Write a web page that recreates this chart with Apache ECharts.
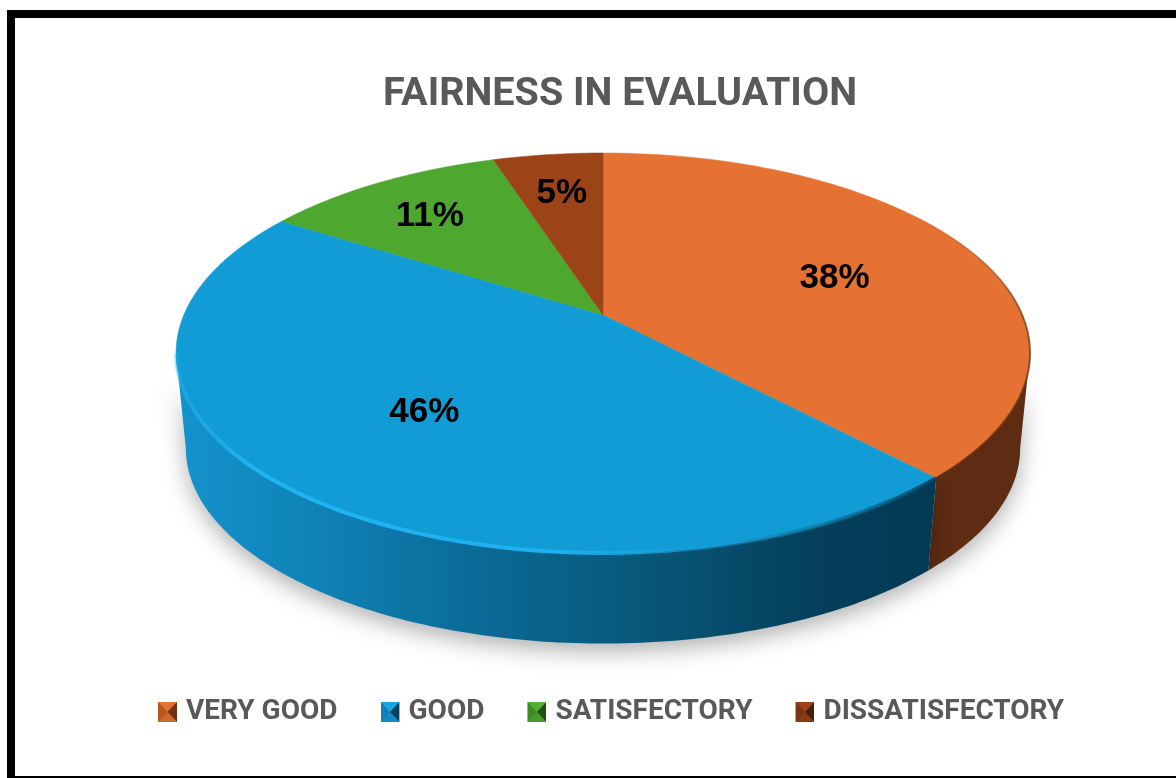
<!DOCTYPE html>
<html>
<head>
<meta charset="utf-8">
<style>html,body{margin:0;padding:0;background:#fff}#c{width:1176px;height:778px}</style>
<script src="https://cdn.jsdelivr.net/npm/echarts@6/dist/echarts.min.js"></script>
</head>
<body>
<div id="c"></div>
<script>
const categories = ['VERY GOOD', 'GOOD', 'SATISFECTORY', 'DISSATISFECTORY'];
const values = [38, 46, 11, 5];
const labelRadius = [0.62, 0.6, 0.75, 0.75];
const labelShift = [[0, 6], [-3, 0], [0, 4], [2, 4]];
const topColors = ['#e57232', '#119cd6', '#4ea72e', '#9c4318'];
const icons = [
  ['#e57232', '#b8561f', '#6e3314', '#d0672b'],
  ['#1aa5e0', '#0e7fb0', '#063f5c', '#128cc2'],
  ['#55b032', '#3d8a26', '#1f4f13', '#469c2b'],
  ['#9c4318', '#7c3412', '#45200c', '#8a3a14']
];

// perspective projection of the unit disc
const P = { cx: 603, cy: 315, A: 419.2, B: 192.8, k: -0.19, sb: 0.977, yb: 411 };
function proj(theta, r, bottom) {
  const u = r * Math.sin(theta), v = -r * Math.cos(theta), w = 1 + P.k * v;
  const s = bottom ? P.sb : 1;
  return [P.cx + s * P.A * u / w, (bottom ? P.yb : P.cy) + s * P.B * v / w];
}
function arc(a, b, bottom) {
  const pts = [], n = Math.max(2, Math.ceil(Math.abs(b - a) * 60));
  for (let i = 0; i <= n; i++) pts.push(proj(a + (b - a) * i / n, 1, bottom));
  return pts;
}
const TOTAL = values.reduce((s, v) => s + v, 0);
const toAngle = p => p / TOTAL * Math.PI * 2;
const SIDE_A = Math.acos(P.k), SIDE_B = Math.PI * 2 - Math.acos(P.k);

const sideFill = [
  '#5e2c12',
  { type: 'linear', x: 0, y: 0, x2: 1, y2: 0, colorStops: [
    { offset: 0, color: '#1493cc' }, { offset: 0.2, color: '#0f81b4' },
    { offset: 0.4, color: '#0a6a96' }, { offset: 0.65, color: '#075474' },
    { offset: 0.85, color: '#043f5b' }, { offset: 1, color: '#033a54' }] }
];
const rimStroke = [
  { type: 'linear', x: 0, y: 0, x2: 0, y2: 1, colorStops: [
    { offset: 0, color: 'rgba(110,55,25,0)' }, { offset: 0.35, color: 'rgba(110,55,25,0.65)' },
    { offset: 1, color: 'rgba(94,44,18,0.9)' }] },
  { type: 'linear', x: 0, y: 0, x2: 1, y2: 0, colorStops: [
    { offset: 0, color: 'rgba(28,180,245,0.3)' }, { offset: 0.12, color: '#1eb4f5' },
    { offset: 0.5, color: '#1eb0f0' }, { offset: 0.72, color: 'rgba(17,156,214,0.6)' },
    { offset: 1, color: 'rgba(4,60,85,0.8)' }] }
];

function makeRender(idx) {
  return function (params, api) {
    const a = toAngle(api.value(0)), b = toAngle(api.value(0) + api.value(1));
    const children = [];
    const lo = Math.max(a, SIDE_A), hi = Math.min(b, SIDE_B);
    if (hi > lo) {
      const poly = arc(lo, hi, false).concat(arc(lo, hi, true).reverse());
      children.push({
        type: 'polygon', z2: 1,
        shape: { points: poly },
        style: { fill: sideFill[idx], shadowBlur: 22, shadowColor: 'rgba(0,0,0,0.3)', shadowOffsetY: 8 }
      });
    }
    const top = [proj(0, 0, false)].concat(arc(a, b, false));
    children.push({
      type: 'polygon', z2: 3,
      shape: { points: top },
      style: { fill: topColors[idx], stroke: topColors[idx], lineWidth: 0.5 }
    });
    if (hi > lo) {
      children.push({
        type: 'polyline', z2: 4,
        shape: { points: arc(idx === 0 ? toAngle(15) : lo, hi, false) },
        style: { fill: 'none', stroke: rimStroke[idx], lineWidth: idx === 0 ? 2 : 4 }
      });
    }
    const mid = (a + b) / 2, lp = proj(mid, labelRadius[idx], false);
    children.push({
      type: 'text', z2: 10, x: lp[0] + labelShift[idx][0], y: lp[1] + labelShift[idx][1],
      style: {
        text: api.value(1) + '%', align: 'center', verticalAlign: 'middle',
        font: 'bold 35px "Liberation Sans"', fill: '#000'
      }
    });
    return { type: 'group', children };
  };
}

let start = 0;
const series = categories.map((name, i) => {
  const s = {
    type: 'custom', name, coordinateSystem: 'none', silent: true, animation: false,
    z: 2, itemStyle: { color: topColors[i] },
    data: [[start, values[i]]], dimensions: ['start', 'value'],
    renderItem: makeRender(i)
  };
  start += values[i];
  return s;
});

function iconUri(c) {
  const svg = '<svg xmlns="http://www.w3.org/2000/svg" width="38" height="40" viewBox="0 0 38 40">' +
    '<rect width="38" height="40" fill="' + c[3] + '"/>' +
    '<polygon points="0,0 38,0 19,20" fill="' + c[0] + '"/>' +
    '<polygon points="0,0 19,20 0,40" fill="' + c[1] + '"/>' +
    '<polygon points="38,0 19,20 38,40" fill="' + c[2] + '"/>' +
    '<polygon points="0,40 19,20 38,40" fill="' + c[3] + '"/></svg>';
  return 'image://data:image/svg+xml;charset=utf-8,' + encodeURIComponent(svg);
}

const chart = echarts.init(document.getElementById('c'), null, { renderer: 'canvas', width: 1176, height: 778 });
chart.setOption({
  animation: false,
  backgroundColor: '#fff',
  title: {
    text: 'FAIRNESS IN EVALUATION', left: 620, top: 75, textAlign: 'center', padding: 0,
    textStyle: { fontFamily: 'Roboto', fontWeight: 'bold', fontSize: 39.5, color: '#595959' }
  },
  legend: {
    top: 698, left: 158, padding: 0, itemGap: 43, itemWidth: 19, itemHeight: 20,
    data: categories.map((name, i) => ({ name, icon: iconUri(icons[i]) })),
    textStyle: { fontFamily: 'Roboto', fontWeight: 'bold', fontSize: 28, color: '#595959', padding: [0, 0, 0, 4] }
  },
  graphic: [
    { type: 'rect', z: 0, shape: { x: 7, y: 10, width: 8, height: 768 }, style: { fill: '#000' } },
    { type: 'rect', z: 0, shape: { x: 7, y: 10, width: 1169, height: 8 }, style: { fill: '#000' } },
    { type: 'rect', z: 0, shape: { x: 7, y: 776, width: 1169, height: 2 }, style: { fill: '#000' } }
  ],
  series
});
</script>
</body>
</html>
